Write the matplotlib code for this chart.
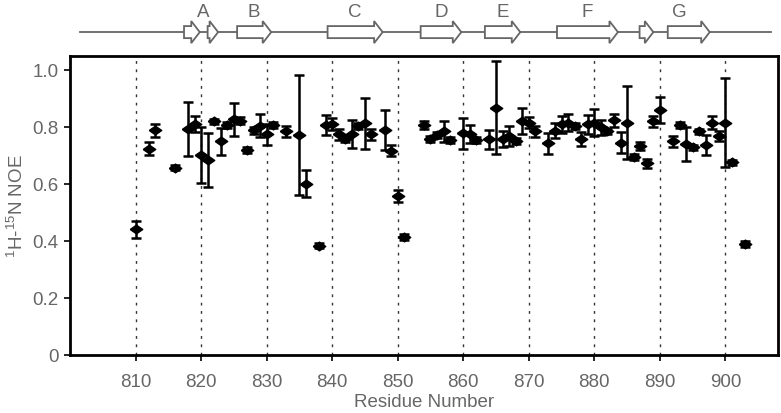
import numpy as np
import matplotlib
matplotlib.use('Agg')
import matplotlib.pyplot as plt
from matplotlib.patches import Polygon

plt.rcParams['font.family'] = ['Liberation Sans', 'DejaVu Sans']
plt.rcParams['mathtext.fontset'] = 'custom'
plt.rcParams['mathtext.rm'] = 'Liberation Sans'

# residue numbers, 1H-15N NOE values and errors
residues = [810, 812, 813, 816, 818, 819, 820, 821, 822, 823, 824, 825, 826, 827,
            828, 829, 830, 831, 833, 835, 836, 838, 839, 840, 841, 842, 843, 844,
            845, 846, 848, 849, 850, 851, 854, 855, 856, 857, 858, 860, 861, 862,
            864, 865, 866, 867, 868, 869, 870, 871, 873, 874, 875, 876, 877, 878,
            879, 880, 881, 882, 883, 884, 885, 886, 887, 888, 889, 890, 892, 893,
            894, 895, 896, 897, 898, 899, 900, 901, 903]
noe = [0.44, 0.724, 0.788, 0.657, 0.792, 0.809, 0.702, 0.683, 0.819, 0.749, 0.807, 0.827, 0.821, 0.719,
       0.788, 0.804, 0.774, 0.807, 0.784, 0.772, 0.601, 0.383, 0.807, 0.81, 0.774, 0.757, 0.774, 0.804,
       0.812, 0.774, 0.788, 0.716, 0.558, 0.414, 0.807, 0.757, 0.771, 0.784, 0.753, 0.777, 0.774, 0.753,
       0.757, 0.868, 0.757, 0.768, 0.751, 0.821, 0.815, 0.784, 0.742, 0.786, 0.809, 0.815, 0.804, 0.757,
       0.809, 0.815, 0.798, 0.784, 0.823, 0.745, 0.815, 0.693, 0.733, 0.672, 0.819, 0.86, 0.749, 0.807,
       0.739, 0.728, 0.784, 0.737, 0.815, 0.768, 0.815, 0.675, 0.388]
err = [0.03, 0.023, 0.023, 0.01, 0.095, 0.028, 0.098, 0.095, 0.01, 0.047, 0.01, 0.058, 0.012, 0.01,
       0.012, 0.04, 0.036, 0.01, 0.02, 0.21, 0.047, 0.01, 0.035, 0.02, 0.02, 0.01, 0.049, 0.01,
       0.088, 0.02, 0.07, 0.02, 0.022, 0.01, 0.015, 0.01, 0.01, 0.036, 0.01, 0.054, 0.031, 0.01,
       0.033, 0.164, 0.027, 0.035, 0.01, 0.045, 0.02, 0.02, 0.036, 0.026, 0.03, 0.03, 0.01, 0.025,
       0.033, 0.047, 0.025, 0.01, 0.022, 0.037, 0.128, 0.01, 0.015, 0.015, 0.02, 0.046, 0.02, 0.01,
       0.06, 0.01, 0.01, 0.035, 0.022, 0.019, 0.155, 0.01, 0.01]

# secondary structure strands (start, end) and labels
strands = [(817.4, 819.8), (821.0, 822.6), (825.5, 830.7), (839.3, 847.7), (853.5, 859.7),
           (863.3, 868.7), (874.3, 883.6), (886.9, 889.0), (891.2, 897.6)]
strand_labels = ['A', 'B', 'C', 'D', 'E', 'F', 'G']
label_pos = [820.4, 828.1, 843.5, 856.6, 866.0, 878.9, 893.0]

grey = '#666666'

fig = plt.figure(figsize=(7.81, 4.14), dpi=100)
ax = fig.add_axes([0.0896, 0.141, 0.9064, 0.722])
ax_ss = fig.add_axes([0.0896, 0.874, 0.9064, 0.126])

xmin, xmax = 800, 908

# main panel
for x in range(810, 901, 10):
    ax.axvline(x, color='#333333', linestyle=(0, (2, 4)), linewidth=1.0, zorder=1)

diamond = [(-1, 0), (0, 0.7), (1, 0), (0, -0.7), (-1, 0)]
ax.errorbar(residues, noe, yerr=err, fmt='none', ecolor='black', elinewidth=1.8,
            capsize=3.5, capthick=1.8, zorder=3)
ax.plot(residues, noe, linestyle='none', marker=diamond, markersize=9,
        color='black', zorder=4)

ax.set_xlim(xmin, xmax)
ax.set_ylim(0, 1.05)
ax.set_xticks(range(810, 901, 10))
ax.set_yticks([0, 0.2, 0.4, 0.6, 0.8, 1.0])
ax.set_yticklabels(['0', '0.2', '0.4', '0.6', '0.8', '1.0'])
ax.tick_params(axis='both', direction='out', length=4.5, width=1.2, color='black',
               labelcolor=grey, labelsize=13.5)
ax.tick_params(axis='x', pad=9)
for s in ax.spines.values():
    s.set_linewidth(2)
    s.set_color('black')
ax.set_xlabel('Residue Number', color=grey, fontsize=13.5, labelpad=2)
ax.set_ylabel(r'$^{1}$H-$^{15}$N NOE', color=grey, fontsize=13.5, labelpad=4)

# secondary structure panel
ax_ss.set_xlim(xmin, xmax)
ax_ss.set_ylim(0, 52)
ax_ss.axis('off')
ax_ss.plot([801.6, 907.0], [19, 19], color=grey, linewidth=1.3, zorder=1)
head = 1.3
for (x0, x1) in strands:
    hx = max(x1 - head, x0 + 0.3)
    verts = [(x0, 13), (hx, 13), (hx, 8), (x1, 19), (hx, 30), (hx, 25), (x0, 25)]
    ax_ss.add_patch(Polygon(verts, closed=True, facecolor='white', edgecolor=grey,
                            linewidth=1.3, zorder=2))
for lab, xp in zip(strand_labels, label_pos):
    ax_ss.text(xp, 40, lab, color=grey, fontsize=13.5, ha='center', va='center')

fig.savefig('out.png', dpi=100)
